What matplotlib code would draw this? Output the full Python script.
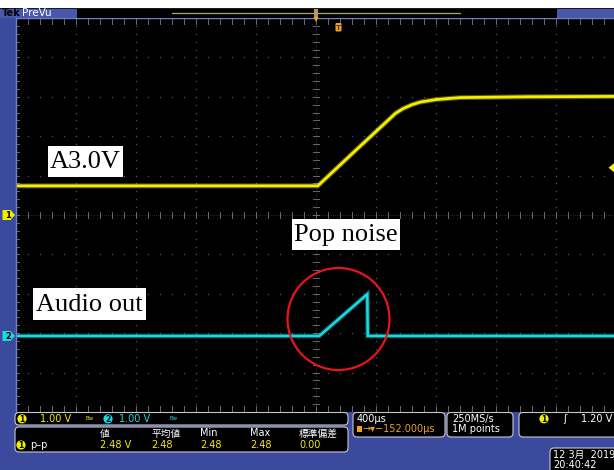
import numpy as np
import matplotlib
matplotlib.use("Agg")
import matplotlib.pyplot as plt
from matplotlib.patches import Rectangle, FancyBboxPatch, Ellipse, Polygon, Circle

plt.rcParams['font.family'] = ['DejaVu Sans', 'Noto Sans CJK JP']

W, H, DPI = 614, 470, 100

# ---- scope settings ----
time_per_div_us = 400
ch1_volts_per_div = 1.0
ch2_volts_per_div = 1.0
ch2_offset_div = -3.07
trigger_level_v = 1.20

# ---- channel 1: A3.0V supply ramp ----
ch1_time_us = [-2000, 12, 270, 530, 580, 640, 700, 800, 960, 1400, 2000]
ch1_volts = [0.74, 0.74, 1.66, 2.58, 2.70, 2.80, 2.87, 2.93, 2.98, 3.00, 3.01]

# ---- channel 2: audio output ----
ch2_time_us = [-2000, 22, 342, 345, 2000]
ch2_volts = [0.0, 0.0, 1.06, 0.0, 0.0]

# ---- measurement readout ----
meas_headers = ["値", "平均値", "Min", "Max", "標準偏差"]
meas_values = ["2.48 V", "2.48", "2.48", "2.48", "0.00"]

YEL = '#f4ee00'
CYN = '#18dce4'
ORG = '#f0a028'
BLUE = '#3b4a9c'

fig = plt.figure(figsize=(W / DPI, H / DPI), dpi=DPI, facecolor=BLUE)

# graticule area (pixels): x 16..616, y 18..412
gx0, gx1, gy0, gy1 = 16, 616, 18, 412
ax = fig.add_axes([gx0 / W, 1 - gy1 / H, (gx1 - gx0) / W, (gy1 - gy0) / H], zorder=2)
ax.set_facecolor('black')
ax.set_xlim(-5 * time_per_div_us, 5 * time_per_div_us)
ax.set_ylim(-5, 5)
ax.set_xticks([])
ax.set_yticks([])
for s in ['right', 'bottom']:
    ax.spines[s].set_visible(False)
for s in ['left', 'top']:
    ax.spines[s].set_color('#7080c8')
    ax.spines[s].set_linewidth(1.0)

# dotted graticule
dot_c = '#555555'
ys = np.arange(-5, 5.001, 0.2)
xs = np.arange(-5 * time_per_div_us, 5 * time_per_div_us + 1, time_per_div_us / 5)
for k in range(-4, 5):
    if k == 0:
        continue
    ax.plot(np.full_like(ys, k * time_per_div_us), ys, ls='none', marker='s', ms=0.9,
            color=dot_c, mec='none')
    ax.plot(xs, np.full_like(xs, k, dtype=float), ls='none', marker='s', ms=0.9,
            color=dot_c, mec='none')

# center cross with minor ticks
tick_c = '#6a6a6a'
ax.axvline(0, color='#3c3c3c', lw=0.6, ls=(0, (1, 1.5)))
ax.axhline(0, color='#3c3c3c', lw=0.6, ls=(0, (1, 1.5)))
tx = time_per_div_us * 0.05
ty = 0.07
for y in ys:
    ax.plot([-tx, tx], [y, y], color=tick_c, lw=0.7)
    ax.plot([-5 * time_per_div_us, -5 * time_per_div_us + tx], [y, y], color=tick_c, lw=0.7)
for x in xs:
    ax.plot([x, x], [-ty, ty], color=tick_c, lw=0.7)
    ax.plot([x, x], [5, 5 - 2 * ty], color=tick_c, lw=0.7)
    ax.plot([x, x], [-5, -5 + 2 * ty], color=tick_c, lw=0.7)

# traces
ch1_div = np.array(ch1_volts) / ch1_volts_per_div
ch2_div = np.array(ch2_volts) / ch2_volts_per_div + ch2_offset_div
ax.plot(ch1_time_us, ch1_div, color=YEL, lw=3.6, alpha=0.35, solid_joinstyle='round')
ax.plot(ch1_time_us, ch1_div, color=YEL, lw=2.0, solid_joinstyle='round')
ax.plot(ch2_time_us, ch2_div, color=CYN, lw=3.4, alpha=0.35, solid_joinstyle='miter')
ax.plot(ch2_time_us, ch2_div, color=CYN, lw=1.8, solid_joinstyle='miter')

# highlight around the pop
ax.add_patch(Ellipse((150, -2.64), width=680, height=2.59, fill=False,
                     ec='#e8141c', lw=1.6, zorder=5))

# ---- overlay in pixel coordinates ----
ov = fig.add_axes([0, 0, 1, 1], zorder=3)
ov.set_xlim(0, W)
ov.set_ylim(H, 0)
ov.axis('off')
ov.patch.set_alpha(0)

def py(div):
    return (gy0 + gy1) / 2 - div * (gy1 - gy0) / 10

# top status bar
ov.add_patch(Rectangle((0, 0), W, 7.5, fc='white', ec='none'))
ov.add_patch(Rectangle((0, 7.5), W, 1.5, fc='#1a1a2a', ec='none'))
ov.add_patch(Rectangle((0, 9), W, 8.5, fc='black', ec='none'))
ov.add_patch(Rectangle((0, 9), 77, 8.5, fc='#4858ac', ec='none'))
ov.add_patch(Rectangle((557, 9), W - 557, 8.5, fc='#4858ac', ec='none'))
ov.text(1.5, 13.5, "Tek", color='black', fontsize=7, fontweight='bold', va='center', ha='left')
ov.text(22, 13.2, "PreVu", color='white', fontsize=7.5, va='center', ha='left')
ov.plot([172, 460], [13, 13], color='#a8a860', lw=0.9)
ov.add_patch(Rectangle((314.3, 9), 3.6, 9, fc='#c09050', ec='none'))
ov.add_patch(Polygon([(313.5, 17), (318.5, 17), (316, 22)], closed=True, fc=ORG, ec='none'))
ov.add_patch(FancyBboxPatch((335.5, 23), 6, 8.5, boxstyle='round,pad=0,rounding_size=1.2',
                            fc=ORG, ec='none'))
ov.text(338.5, 27.5, "T", color='#603000', fontsize=5, fontweight='bold', ha='center', va='center')

# channel ground markers
def ch_marker(y, color, label):
    ov.add_patch(Polygon([(2.5, y - 5), (10.5, y - 5), (15, y), (10.5, y + 5), (2.5, y + 5)],
                         closed=True, fc=color, ec='none'))
    ov.text(8, y + 0.3, label, color='black', fontsize=6, fontweight='bold', ha='center', va='center')

ch_marker(py(0), YEL, "1")
ch_marker(py(ch2_offset_div), CYN, "2")

# trigger level marker
ty_px = py(trigger_level_v / ch1_volts_per_div)
ov.add_patch(Polygon([(614, ty_px - 4.5), (608.5, ty_px), (614, ty_px + 4.5)], closed=True,
                     fc=YEL, ec='none'))

# annotation labels
def label(x0, y0, x1, y1, s):
    ov.add_patch(Rectangle((x0, y0), x1 - x0, y1 - y0, fc='white', ec='none'))
    ov.text((x0 + x1) / 2, (y0 + y1) / 2 + 1, s, color='black', fontsize=19,
            family='Liberation Serif', ha='center', va='center')

label(48, 146, 123, 177, "A3.0V")
label(292, 219, 400, 250, "Pop noise")
label(33, 288, 146, 320, "Audio out")

# ---- bottom readout panel ----
def box(x0, y0, x1, y1):
    ov.add_patch(FancyBboxPatch((x0, y0), x1 - x0, y1 - y0,
                                boxstyle='round,pad=0,rounding_size=4',
                                fc='black', ec='#c8c8d0', lw=0.8))

def badge(x, y, color, s):
    ov.add_patch(Circle((x, y), 4.6, fc=color, ec='none'))
    ov.text(x, y + 0.3, s, color='black', fontsize=5.5, fontweight='bold', ha='center', va='center')

fs = 7
box(15, 412.5, 348, 425)
badge(22, 418.8, YEL, "1")
ov.text(40, 418.8, f"{ch1_volts_per_div:.2f} V", color=YEL, fontsize=fs, va='center')
ov.text(86, 418.5, "Bw", color=YEL, fontsize=4, va='center')
badge(108, 418.8, CYN, "2")
ov.text(119, 418.8, f"{ch2_volts_per_div:.2f} V", color=CYN, fontsize=fs, va='center')
ov.text(170, 418.5, "Bw", color=CYN, fontsize=4, va='center')

box(15, 427, 348, 452)
col_x = [100, 151, 200, 250, 299]
for x, h, v in zip(col_x, meas_headers, meas_values):
    ov.text(x, 433.5, h, color='white', fontsize=fs, va='center', ha='left')
    ov.text(x, 445, v, color=YEL, fontsize=fs, va='center', ha='left')
badge(21, 445, YEL, "1")
ov.text(30, 444.5, "p–p", color='white', fontsize=fs, va='center', ha='left')

box(353, 412.5, 445, 437)
ov.text(357, 418.8, f"{time_per_div_us}µs", color='white', fontsize=fs, va='center')
ov.add_patch(Rectangle((357, 426), 5, 6, fc=ORG, ec='none'))
ov.text(362.5, 429.5, "→▾−152.000µs", color=ORG, fontsize=fs, va='center')

box(447, 412.5, 513, 437)
ov.text(452, 418.8, "250MS/s", color='white', fontsize=fs, va='center')
ov.text(452, 429.5, "1M points", color='white', fontsize=fs, va='center')

box(519, 412.5, 622, 437)
badge(544, 418.8, YEL, "1")
ov.text(563, 418.8, "ʃ", color='white', fontsize=fs, va='center')
ov.text(581, 418.8, f"{trigger_level_v:.2f} V", color='white', fontsize=fs, va='center')

box(550, 448, 622, 474)
ov.text(553, 455, "12 3月  2019", color='white', fontsize=fs, va='center')
ov.text(553, 465, "20:40:42", color='white', fontsize=fs, va='center')

fig.savefig("out.png", dpi=DPI, facecolor=BLUE)
